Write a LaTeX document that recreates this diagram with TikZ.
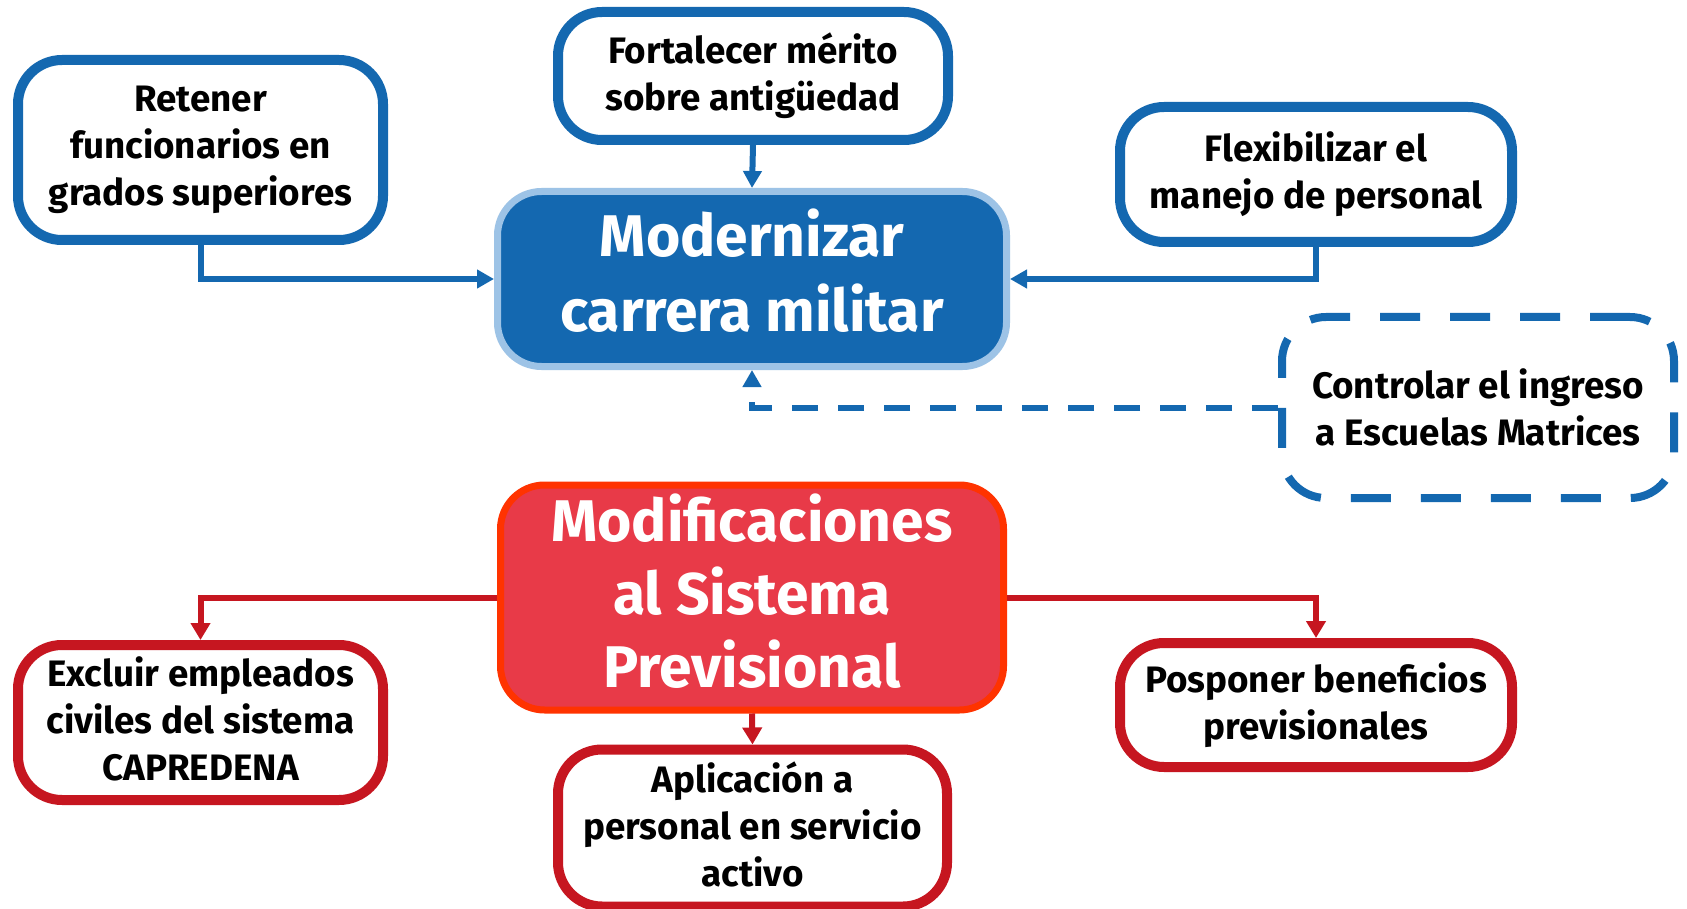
\documentclass[tikz,border=0pt]{standalone}
\usepackage{fontspec}
\setmainfont{Fira Sans}
\usetikzlibrary{arrows.meta}
\definecolor{cblue}{RGB}{20,104,176}
\definecolor{clight}{RGB}{157,195,230}
\definecolor{cred}{RGB}{232,58,72}
\definecolor{corange}{RGB}{255,51,0}
\definecolor{cdred}{RGB}{198,22,32}
\begin{document}
\begin{tikzpicture}[x=0.5pt,y=-0.5pt,
  box/.style={rounded corners=22pt, align=center, inner sep=0pt, fill=white,
    font=\fontsize{18.4}{23.5}\selectfont\bfseries},
  bbox/.style={box, draw=cblue, line width=5pt},
  rbox/.style={box, draw=cdred, line width=5pt},
  dbox/.style={box, draw=cblue, line width=4pt, dash pattern=on 20pt off 15pt},
  bigblue/.style={rounded corners=22pt, align=center, inner sep=0pt, fill=cblue, draw=clight,
    line width=3.5pt, text=white, text depth=8.6pt, font=\fontsize{29.4}{37.5}\selectfont\bfseries},
  bigred/.style={rounded corners=22pt, align=center, inner sep=0pt, fill=cred, draw=corange,
    line width=3.5pt, text=white, text depth=7pt, font=\fontsize{29.4}{36.5}\selectfont\bfseries},
  bconn/.style={draw=cblue, line width=3pt, -{Triangle[length=8.5pt,width=9pt]}},
  dconn/.style={draw=cblue, line width=3pt, dash pattern=on 13pt off 10pt, -{Triangle[length=8.5pt,width=9pt]}},
  rconn/.style={draw=cdred, line width=3pt, -{Triangle[length=8.5pt,width=9.5pt]}}
]
\fill[white] (0,0) rectangle (1687,909);
\useasboundingbox (0,0) rectangle (1687,909);

\node[bbox, minimum width=182.5pt, minimum height=90pt] (ret) at (200.5,150)
  {Retener\\funcionarios en\\grados superiores};
\node[bbox, minimum width=195pt, minimum height=64pt] (fort) at (753,76)
  {Fortalecer mérito\\sobre antigüedad};
\node[bbox, minimum width=196pt, minimum height=67.5pt] (flex) at (1316,174.5)
  {Flexibilizar el\\manejo de personal};
\node[bigblue, minimum width=254.5pt, minimum height=87.5pt] (mod) at (752,279)
  {Modernizar\\carrera militar};
\node[dbox, minimum width=196pt, minimum height=90.5pt] (ctrl) at (1478,407.5)
  {Controlar el ingreso\\a Escuelas Matrices};

\node[bigred, minimum width=251.5pt, minimum height=112.5pt] (modif) at (752,597.5)
  {Modificaciones\\al Sistema\\Previsional};
\node[rbox, text depth=4.3pt, minimum width=182.5pt, minimum height=77.5pt] (excl) at (200.5,722.5)
  {Excluir empleados\\civiles del sistema\\CAPREDENA};
\node[rbox, text depth=4.3pt, minimum width=194.5pt, minimum height=78.5pt] (apl) at (752.5,828)
  {Aplicación a\\personal en servicio\\activo};
\node[rbox, minimum width=196pt, minimum height=62pt] (posp) at (1316,705)
  {Posponer beneficios\\previsionales};

\draw[bconn] (fort.south) -- (mod.north);
\draw[bconn] (ret.south) |- (mod.west);
\draw[bconn] (flex.south) |- (mod.east);
\draw[dconn] (ctrl.west) -| (mod.south);

\draw[rconn] (modif.west) -| (excl.north);
\draw[rconn] (modif.east) -| (posp.north);
\draw[rconn] (modif.south) -- (apl.north);
\end{tikzpicture}
\end{document}
